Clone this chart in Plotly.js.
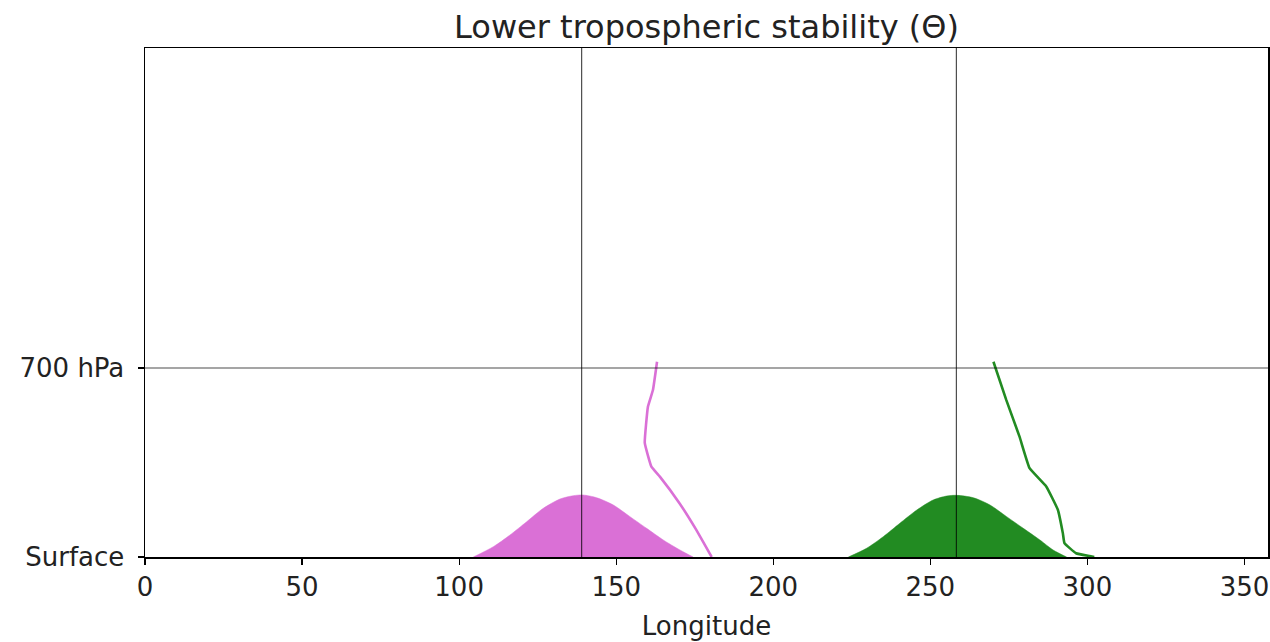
<!DOCTYPE html>
<html>
<head>
<meta charset="utf-8">
<script src="https://cdn.plot.ly/plotly-3.0.1.min.js"></script>
<style>html,body{margin:0;padding:0;background:#fff;}#chart{width:1270px;height:642px;}</style>
</head>
<body>
<div id="chart"></div>
<script>
// Pressure levels (hPa): surface = 1000
const yTickVals = [1000, 700];
const yTickText = ["Surface", "700 hPa"];
const xTickVals = [0, 50, 100, 150, 200, 250, 300, 350];

// Reference lines
const refLon = [139, 258.3];
const refLev = [700];

// Pink (orchid) terrain hump
const pinkHumpLon = [104.5, 110.9, 116.2, 121.5, 126.8, 132.1, 136.3, 139.5, 143.8, 149.1, 154.4, 159.7, 165.0, 170.3, 174.5];
const pinkHumpP   = [1000, 983.6, 965.1, 944.0, 922.7, 908.0, 902.7, 901.6, 905.9, 917.5, 936.0, 954.5, 973.0, 988.9, 1000];
// Pink profile line
const pinkLineLon = [163.0, 161.7, 160.1, 159.1, 161.2, 163.9, 170.2, 175.5, 179.7, 180.4];
const pinkLineP   = [690, 735, 761.5, 819, 856.6, 872.5, 915, 957, 994, 1000];

// Green terrain hump
const greenHumpLon = [223.9, 229.7, 235.0, 240.3, 245.7, 250.9, 255.2, 258.4, 263.7, 269.0, 274.3, 279.6, 284.9, 289.1, 293.4];
const greenHumpP   = [1000, 986.2, 967.8, 946.5, 925.4, 909.5, 903.2, 902.1, 905.9, 917.5, 936.0, 954.5, 973.0, 988.9, 1000];
// Green profile line
const greenLineLon = [270.1, 274.2, 278.4, 281.6, 286.9, 290.6, 292.2, 292.7, 296.4, 300.7, 302.2];
const greenLineP   = [690, 751, 809, 859, 888, 925, 962.5, 978, 994, 998.5, 1000];

const pink = "#DA70D6";
const green = "#228B22";

const traces = [
  {x: pinkHumpLon, y: pinkHumpP, mode: "lines", fill: "toself", fillcolor: pink,
   line: {color: pink, width: 0.5, shape: "spline", smoothing: 0.8}, hoverinfo: "skip"},
  {x: greenHumpLon, y: greenHumpP, mode: "lines", fill: "toself", fillcolor: green,
   line: {color: green, width: 0.5, shape: "spline", smoothing: 0.8}, hoverinfo: "skip"},
  {x: pinkLineLon, y: pinkLineP, mode: "lines", line: {color: pink, width: 2.6, shape: "spline", smoothing: 0.3}},
  {x: greenLineLon, y: greenLineP, mode: "lines", line: {color: green, width: 2.6, shape: "spline", smoothing: 0.3}}
];

const shapes = [];
refLon.forEach(v => shapes.push({type: "line", xref: "x", yref: "paper", x0: v, x1: v, y0: 0, y1: 1,
  line: {color: "rgba(0,0,0,0.7)", width: 1.2}, layer: "above"}));
refLev.forEach(v => shapes.push({type: "line", xref: "paper", yref: "y", x0: 0, x1: 1, y0: v, y1: v,
  line: {color: "rgba(0,0,0,0.7)", width: 1.2}, layer: "above"}));

const font = {family: "DejaVu Sans", size: 26, color: "#222"};

const layout = {
  width: 1270, height: 642,
  margin: {l: 145, r: 2, t: 48, b: 85},
  paper_bgcolor: "#fff", plot_bgcolor: "#fff",
  showlegend: false,
  font: font,
  title: {text: "Lower tropospheric stability (Θ)", font: {family: "DejaVu Sans", size: 32, color: "#222"},
          xref: "paper", x: 0.5, xanchor: "center", y: 0.958, yanchor: "middle"},
  xaxis: {range: [0, 357.5], tickvals: xTickVals, ticks: "outside", ticklen: 6, tickwidth: 1.2,
          tickcolor: "#000", showgrid: false, zeroline: false, showline: true, linecolor: "#000",
          linewidth: 1.5, mirror: true, tickfont: font,
          title: {text: "Longitude", font: font, standoff: 16}},
  yaxis: {range: [1000, 192], tickvals: yTickVals, ticktext: yTickText, ticks: "outside", ticklen: 6,
          tickwidth: 1.2, tickcolor: "#000", showgrid: false, zeroline: false, showline: true,
          linecolor: "#000", linewidth: 1.5, mirror: true, tickfont: font, ticklabelstandoff: 8},
  shapes: shapes
};

Plotly.newPlot("chart", traces, layout, {displayModeBar: false, staticPlot: true});
</script>
</body>
</html>
